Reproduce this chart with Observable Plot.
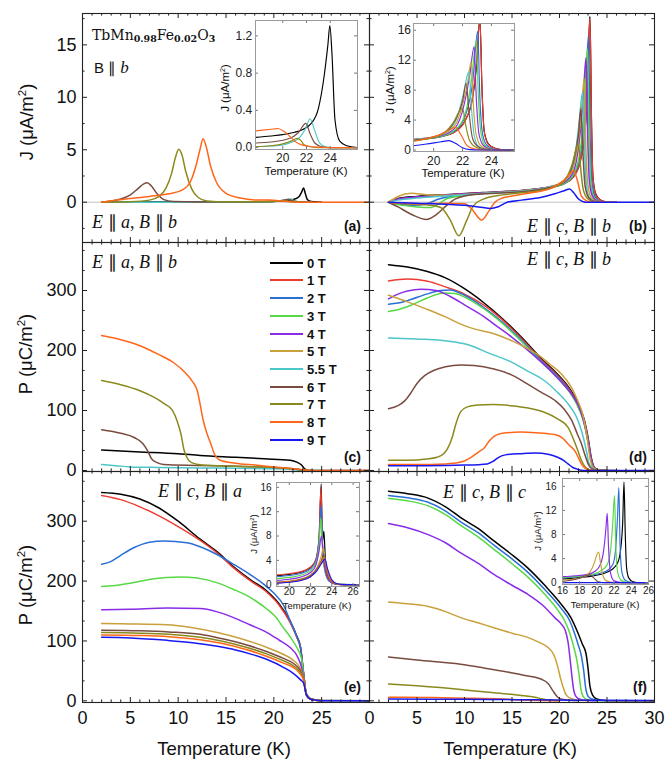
<!DOCTYPE html>
<html><head><meta charset="utf-8">
<script src="https://cdn.jsdelivr.net/npm/d3@7"></script>
<script src="https://cdn.jsdelivr.net/npm/@observablehq/plot@0.6"></script>
<style>
body{margin:0;background:#fff;}
#fig{position:relative;width:666px;height:759px;overflow:hidden;font-family:"Liberation Sans",Arial,sans-serif;color:#111;background:#fff;}
.t{position:absolute;white-space:nowrap;line-height:1;}
.em{font-family:"Liberation Serif","Times New Roman",serif;font-size:18px;}
.em i{font-style:italic;}
.lab{font-size:14px;font-weight:bold;}
.ax{font-size:18.5px;}
.ax sup,.ins sup,.ins2 sup{font-size:0.62em;vertical-align:0.55em;line-height:0;}
.ins{font-size:11.5px;}
.ins2{font-size:9.5px;}
.leg{font-size:13px;font-weight:bold;}
.form{font-family:"DejaVu Serif",serif;font-size:14px;}
.form sub{font-size:9.5px;font-weight:bold;vertical-align:-0.25em;line-height:0;}
.bb{font-size:15px;}
.bb i{font-family:"Liberation Serif",serif;font-size:17px;}
</style></head><body><div id="fig"></div>
<script>
// ---------------- data ----------------
const fields = ["0 T","1 T","2 T","3 T","4 T","5 T","5.5 T","6 T","7 T","8 T","9 T"];
const colors = ["#000000","#ee3b32","#2a6fd6","#57d845","#8a2be8","#c9a03a","#4cc7c9","#7a4c40","#8a8a1c","#ff661a","#1818f0"];

const tempMajor = [0,5,10,15,20,25,30];
const tempLabelsLeft = [0,5,10,15,20,25];
const tempLabelsRight = [0,5,10,15,20,25,30];
const jTicks = [0,5,10,15];
const pTicks = [0,100,200,300];
const insetATicksX = [20,22,24];
const insetATicksY = [0,0.4,0.8,1.2];
const insetBTicksX = [20,22,24];
const insetETicksX = [20,22,24,26];
const insetFTicksX = [16,18,20,22,24,26];
const insetJTicks = [0,4,8,12,16];

// (a) J, E||a, B||b
const jA = [
 ["0 T",[[2,0],[8,0.01],[14,0.02],[18,0.04],[20,0.08],[21,0.13],[22,0.25],[22.6,0.5],[22.9,0.95],[23.1,1.35],[23.3,0.8],[23.5,0.25],[23.9,0.06],[24.5,0.01],[25,0]]],
 ["5.5 T",[[2,0],[10,0],[18,0.02],[20,0.08],[21,0.17],[21.7,0.3],[22.2,0.12],[22.8,0.02],[24,0]]],
 ["6 T",[[2,0],[3,0.12],[4,0.3],[5,0.7],[5.8,1.3],[6.4,1.75],[6.75,1.85],[7.2,1.55],[7.8,0.8],[8.5,0.25],[9.5,0.07],[12,0.03],[18,0.04],[20.5,0.12],[21.5,0.25],[22.1,0.1],[23,0.02],[24,0]]],
 ["7 T",[[2,0],[5,0.05],[7,0.2],[8,0.55],[8.7,1.3],[9.3,2.7],[9.7,4.2],[10.05,5.05],[10.4,4.5],[10.8,2.9],[11.4,1.3],[12.1,0.45],[13,0.12],[15,0.04],[19,0.05],[20.5,0.1],[21.2,0.13],[21.8,0.05],[23,0]]],
 ["8 T",[[2,0],[3,0.15],[5,0.35],[7,0.55],[9,0.8],[10.5,1.2],[11.3,2],[11.9,3.6],[12.3,5.1],[12.6,6.05],[12.9,5.4],[13.4,3.4],[14,1.9],[15,0.85],[16.5,0.4],[18,0.22],[19.5,0.2],[21,0.1],[22,0.03],[23,0],[30,0]]]
];

// (b) J, E||c, B||b
const jB = [
 ["0 T",[[2,0],[3,0.35],[5,0.55],[8,0.72],[12,0.92],[16,1.12],[19,1.45],[20.5,1.8],[21.5,2.5],[22.2,4],[22.7,7],[23.0,12],[23.2,17.7],[23.35,8],[23.5,2.5],[23.8,0.8],[24.3,0.2],[25,0.02],[26,0]]],
 ["1 T",[[2,0],[3,0.3],[5,0.5],[8,0.7],[12,0.9],[16,1.1],[19,1.42],[20.5,1.78],[21.5,2.45],[22.2,4],[22.7,7.2],[23.0,12.5],[23.2,17.5],[23.35,8],[23.5,2.5],[23.8,0.7],[24.3,0.2],[25,0.02],[26,0]]],
 ["2 T",[[2,0],[3,-0.15],[4.5,-0.3],[6,-0.15],[7.3,0.3],[8.5,0.55],[12,0.85],[16,1.08],[19,1.42],[20.5,1.78],[21.5,2.6],[22.2,4.6],[22.7,9],[23.05,15.9],[23.2,7],[23.4,2],[23.7,0.6],[24.2,0.1],[25,0],[26,0]]],
 ["3 T",[[2,0],[3.5,-0.3],[5,-0.45],[6.5,-0.5],[7.3,-0.15],[8.2,0.35],[12,0.83],[16,1.06],[19,1.42],[20.5,1.8],[21.5,2.7],[22.2,5],[22.6,9],[22.95,14.6],[23.1,7],[23.3,2],[23.6,0.5],[24.1,0.1],[25,0],[26,0]]],
 ["4 T",[[2,0],[3,0.3],[5,0.5],[8,0.7],[12,0.9],[16,1.1],[19,1.48],[20.5,1.9],[21.5,3],[22.1,6],[22.5,10],[22.8,13.8],[22.95,7],[23.15,2],[23.5,0.5],[24,0.1],[25,0],[26,0]]],
 ["5 T",[[2,0],[3,0.55],[4.4,0.85],[6,0.72],[8,0.66],[12,0.85],[16,1.08],[19,1.48],[20.5,2],[21.5,3.4],[22,6],[22.35,9],[22.6,11.8],[22.75,6],[22.95,2],[23.3,0.5],[23.8,0.1],[25,0],[26,0]]],
 ["5.5 T",[[2,0],[3,0.2],[5,0.4],[8,0.6],[12,0.84],[16,1.04],[19,1.45],[20.5,2],[21.5,3.8],[22,7],[22.45,10.5],[22.6,6],[22.8,2],[23.1,0.5],[23.6,0.1],[25,0],[26,0]]],
 ["6 T",[[2,0],[3,-0.45],[4.5,-1.2],[6,-1.65],[7,-1.2],[8,-0.4],[9,0.3],[10,0.6],[12,0.8],[16,1.0],[19,1.4],[20.5,2.1],[21.5,4],[22,6.5],[22.25,8.9],[22.45,5],[22.7,1.5],[23.1,0.4],[23.6,0.1],[25,0],[26,0]]],
 ["7 T",[[2,0],[4,-0.15],[6,-0.25],[7.5,-0.5],[8.5,-1.7],[9.4,-3.2],[10.2,-1.8],[10.9,-0.4],[12,0.3],[14,0.7],[16,0.9],[19,1.3],[20.5,2],[21.3,3.5],[22,5.6],[22.2,3.5],[22.5,1.2],[23,0.3],[23.6,0.05],[25,0],[26,0]]],
 ["8 T",[[2,0],[5,-0.15],[8,-0.1],[10,-0.15],[10.8,-0.7],[11.8,-1.7],[12.6,-0.8],[13.2,0],[14,0.4],[15,0.6],[17,0.9],[19,1.3],[20.5,2.1],[21.5,3],[21.9,2],[22.3,0.6],[22.8,0.15],[23.5,0],[26,0]]],
 ["9 T",[[2,0],[5,-0.1],[8,-0.2],[10,-0.3],[11.5,-0.45],[12.8,-0.6],[13.5,-0.45],[14.5,0],[16,0.2],[18,0.45],[19.5,0.8],[20.5,1.1],[21.05,1.25],[21.5,0.9],[22,0.3],[22.5,0.05],[23,0],[30,0]]]
];

// (c) P, E||a, B||b
const pC = [
 ["0 T",[[2,34],[6,31],[10,28],[12.3,25],[16,22],[19,19.5],[21.7,17],[22.4,14],[22.9,9],[23.2,3],[23.5,0.5],[24,0],[30,0]]],
 ["5.5 T",[[2,10],[3.5,8],[5,6],[8,5],[14,4],[20,3],[22,1.5],[23,0],[25,0]]],
 ["6 T",[[2,68],[4,62],[5.4,55],[6.3,45],[6.8,33],[7.2,20],[7.8,13],[8.5,10],[12,8.5],[16,7],[20,5],[22,3],[23,0.5],[24,0]]],
 ["7 T",[[2,150],[4,143],[6,133],[7.5,122],[8.5,112],[9.4,100],[9.9,82],[10.3,60],[10.6,35],[10.9,22],[11.4,13],[12.5,9],[16,7],[20,5],[22.5,2],[23.5,0],[24,0]]],
 ["8 T",[[2,225],[4,218],[6,208],[8,193],[9.5,180],[10.8,162],[11.5,148],[12,133],[12.3,110],[12.6,85],[13,62],[13.4,45],[13.8,27],[14.4,17],[16,12],[18,9],[20,6],[22,3],[23.5,0.5],[25,0],[30,0]]]
];

// (d) P, E||c, B||b
const pD = [
 ["0 T",[[2,343],[4,339],[6,332],[8,321],[10,303],[12,280],[14,253],[16,222],[18,188],[20,157],[21,138],[22,110],[22.6,85],[23,55],[23.3,25],[23.6,7],[24,1.5],[25,0],[26,0]]],
 ["1 T",[[2,316],[4,319],[6,316],[8,306],[10,294],[12,276],[14,251],[16,220],[18,186],[20,155],[21,136],[22,108],[22.6,83],[23,53],[23.3,23],[23.6,6],[24,1],[25,0]]],
 ["2 T",[[2,277],[3,279],[4,283],[6,294],[7.5,300],[8.5,301],[10,292],[12,272],[14,247],[16,217],[18,184],[20,153],[21,134],[22,106],[22.6,80],[23,50],[23.3,20],[23.6,5],[24,1],[25,0]]],
 ["3 T",[[2,265],[3,268],[4.3,275],[6,287],[7.8,296],[9,295],[10,289],[12,270],[14,245],[16,215],[18,182],[20,151],[21,132],[22,104],[22.6,78],[23,47],[23.3,18],[23.6,4],[24,1],[25,0]]],
 ["4 T",[[2,286],[3,294],[4,299],[5.4,302],[7,300],[8.5,290],[10,276],[12,257],[13.1,244],[15,222],[17,196],[19,167],[20.5,142],[21.5,122],[22.2,100],[22.7,72],[23.1,40],[23.4,12],[23.7,3],[24.2,0],[25,0]]],
 ["5 T",[[2,292],[4,281],[6,269],[8,256],[9.6,244],[11,236],[13.1,228],[15,216],[16.65,203],[18,190],[19,177],[20.2,161],[21,145],[21.9,117],[22.5,90],[22.9,55],[23.2,22],[23.5,6],[24,1],[25,0]]],
 ["5.5 T",[[2,221],[5,219],[7.5,217],[9,214],[10.7,208],[12.5,196],[14.9,181],[16.5,167],[18.4,150],[19.8,130],[20.9,111],[21.7,92],[22.3,67],[22.8,35],[23.1,12],[23.5,3],[24,0],[25,0]]],
 ["6 T",[[2,103],[3,108],[3.7,116],[4.3,128],[5,145],[5.8,158],[6.8,167],[8,173],[9.6,176],[11,175],[13.1,169],[15,159],[16.65,144],[18,131],[19.5,117],[20.5,102],[21.3,83],[21.9,60],[22.3,45],[22.7,25],[23.1,8],[23.5,2],[24,0],[25,0]]],
 ["7 T",[[2,17],[4,17],[6,19],[7.1,22],[7.8,28],[8.2,36],[8.7,55],[9.1,78],[9.6,98],[10.3,106],[11.4,109],[13,110],[14.9,108],[16.7,104],[18.4,97],[19.8,86],[20.9,72],[21.6,47],[22,30],[22.3,17],[22.7,6],[23.2,1],[24,0],[25,0]]],
 ["8 T",[[2,10],[5,10],[8,11],[9.6,14],[10.7,22],[11.5,31],[12.1,38],[12.6,49],[13.1,57],[14,62],[15.9,64],[17.5,63],[19.5,60],[20.4,53],[20.9,44],[21.6,33],[22,21],[22.3,11],[22.7,4],[23.2,1],[24,0],[25,0]]],
 ["9 T",[[2,8],[6,8],[10,9],[12.4,11],[13,15],[13.5,21],[14.3,26],[16,28],[17.5,29],[18.8,27],[19.8,22],[20.5,16],[20.9,11],[21.4,5],[21.9,2],[22.5,0],[30,0]]]
];

// (e) P, E||c, B||a
const pE = [
 ["0 T",[[2,348],[4,345],[6,337],[8,322],[10,300],[12.3,270],[14,250],[15.8,224],[17.5,203],[19.3,183],[20.5,163],[21.7,133],[22.4,108],[22.8,89],[23.1,48],[23.4,12],[23.8,4],[24.4,1.5],[25,0.5],[30,0]]],
 ["1 T",[[2,343],[4,336],[6,324],[8,309],[10,291],[12.3,268],[14,248],[15.8,222],[17.5,201],[19.3,181],[20.5,161],[21.7,131],[22.4,106],[22.8,87],[23.1,46],[23.4,11],[23.8,3],[24.4,1],[25,0.3]]],
 ["2 T",[[2,228],[3,233],[4,243],[5.4,256],[7,265],[8.5,267],[10.9,264],[12.5,256],[14.1,244],[15.8,228],[17.6,210],[19,194],[20,180],[21,160],[21.7,134],[22.4,107],[22.8,87],[23.1,46],[23.4,11],[23.8,3],[24.4,1],[25,0.3]]],
 ["3 T",[[2,191],[4,194],[5.5,198],[7.1,203],[8.8,206],[10.2,207],[12,205],[14.1,197],[15.8,186],[17.6,172],[19.3,153],[20.2,140],[21,122],[21.7,107],[22.4,89],[22.9,70],[23.1,44],[23.4,11],[23.8,3],[24.4,1],[25,0.3]]],
 ["4 T",[[2,152],[5,153],[8.85,155],[12.3,154],[14,149],[15.8,139],[17.5,127],[19.3,114],[20.5,102],[21.7,89],[22.4,76],[22.8,61],[23.1,40],[23.4,11],[23.8,3],[24.4,1],[25,0.3]]],
 ["5 T",[[2,129],[5,128.5],[8.85,127],[11.5,122],[14.1,114],[16.5,104],[19.3,89],[20.8,79],[22.1,67],[22.7,56],[23.1,38],[23.4,10],[23.8,3],[24.4,1],[25,0.3]]],
 ["6 T",[[2,118],[6,117],[9,115],[12.3,111],[14.5,104],[17,94],[19.3,82],[21,71],[22.1,62],[22.7,52],[23.1,37],[23.4,10],[23.8,3],[24.4,1],[25,0.3]]],
 ["7 T",[[2,114],[6,113],[9,111],[12.3,106],[14.5,100],[17,90],[19.3,78],[21,67],[22.1,58],[22.7,49],[23.1,36],[23.4,10],[23.8,3],[24.4,1],[25,0.3]]],
 ["8 T",[[2,110],[6,109],[9,107],[12.3,102],[14.5,96],[17,86],[19.3,74],[21,63],[22.1,55],[22.7,46],[23.1,35],[23.4,10],[23.8,3],[24.4,1],[25,0.3]]],
 ["9 T",[[2,106],[5,105],[8.85,101],[11.5,97],[14.1,91],[16,85],[17.6,78],[19.3,69],[21,56],[22.1,45],[22.8,35],[23.1,30],[23.4,10],[23.8,3],[24.4,1],[25,0.3],[30,0]]]
];

// (f) P, E||c, B||c
const pF = [
 ["0 T",[[2,350],[4,346],[6.1,339],[8,324],[9.6,306],[11.5,287],[13.1,267],[15,244],[16.65,222],[18.5,192],[20.2,161],[21.2,139],[21.9,115],[22.4,95],[22.8,78],[23.0,55],[23.2,25],[23.5,9],[23.9,3],[24.5,1],[25.5,0],[30,0]]],
 ["2 T",[[2,343],[4,339],[6.1,332],[8,317],[9.6,299],[11.5,280],[13.1,260],[15,237],[16.65,215],[18.5,185],[20.2,154],[21.1,133],[21.6,112],[22.0,92],[22.3,75],[22.55,50],[22.75,22],[23.0,8],[23.4,3],[24,1],[25,0]]],
 ["3 T",[[2,338],[4,334],[6.1,326],[8,311],[9.6,293],[11.5,273],[13.1,253],[15,229],[16.65,207],[18.5,177],[19.8,152],[20.6,132],[21.1,112],[21.5,90],[21.8,70],[22.05,45],[22.25,20],[22.5,7],[22.9,2],[23.5,0.5],[24.5,0]]],
 ["4 T",[[2,296],[4,289],[6.1,278],[8,264],[9.6,247],[11.5,229],[13.1,211],[15,193],[16.65,178],[18.2,160],[19.5,139],[20.2,128],[20.6,118],[20.9,98],[21.1,72],[21.3,42],[21.5,18],[21.8,6],[22.3,2],[23,0.5],[24,0]]],
 ["5 T",[[2,165],[4,162],[6.1,158],[8,149],[9.6,139],[11.5,130],[13.1,122],[15,113],[16.65,106],[17.8,98],[18.8,89],[19.4,77],[19.8,58],[20.1,38],[20.4,22],[20.7,10],[21.2,4],[22,1],[23,0]]],
 ["6 T",[[2,73],[5,68],[9.6,61],[12,55],[14.9,47],[16.5,42],[18.1,36],[18.8,29],[19.3,17],[19.7,8],[20.1,3],[21,1],[22,0]]],
 ["7 T",[[2,28],[5,25],[9.6,19],[12,15],[14.9,11],[16.5,8],[17.4,6],[18.2,3],[19,1],[20,0]]],
 ["8 T",[[2,6],[6,5.5],[10,4.5],[14,3],[16,1.5],[18,0.5],[20,0]]],
 ["9 T",[[2,3],[10,2.5],[15,2],[22,1],[30,0.5]]]
];

// inset of (a): J near the transition
const jInsetA = [
 ["0 T",[[17.7,0.11],[19,0.125],[20,0.14],[21,0.165],[21.6,0.19],[22.4,0.26],[23,0.42],[23.5,0.78],[23.8,1.1],[23.97,1.31],[24.15,1.0],[24.4,0.3],[24.8,0.07],[25.4,0.02],[26.3,0]]],
 ["5.5 T",[[17.7,0.01],[19.5,0.02],[20.8,0.06],[21.5,0.12],[21.9,0.2],[22.3,0.31],[22.7,0.18],[23.1,0.05],[23.6,0.01],[24.5,0],[26.3,0]]],
 ["6 T",[[17.7,0.05],[19,0.06],[20.6,0.1],[21.3,0.16],[21.95,0.26],[22.3,0.15],[22.7,0.05],[23.3,0.01],[24,0],[26.3,0]]],
 ["7 T",[[17.7,0.01],[19,0.02],[20,0.04],[20.7,0.07],[21.2,0.1],[21.5,0.08],[21.8,0.03],[22.3,0.01],[23,0],[26.3,0]]],
 ["8 T",[[17.7,0.18],[18.5,0.19],[19.2,0.2],[19.6,0.205],[20.1,0.175],[20.6,0.12],[21.1,0.06],[21.6,0.03],[22.2,0.015],[23,0.005],[24,0],[26.3,0]]]
];

// inset of (e)
const jInsetE = [
 ["0 T",[[18.8,1.5],[20,1.7],[21,2.0],[22,2.8],[22.5,4.0],[22.8,7.5],[23.0,16.6],[23.12,7],[23.25,8.8],[23.4,4],[23.6,1.5],[24,0.4],[24.6,0.05],[26.6,0]]],
 ["1 T",[[18.8,1.6],[20,1.8],[21,2.1],[22,2.9],[22.5,4.2],[22.8,8],[22.98,16],[23.12,7],[23.3,3],[23.6,1],[24,0.3],[24.6,0.05],[26.6,0]]],
 ["2 T",[[18.8,1.3],[20,1.5],[21,1.8],[22,2.6],[22.5,4],[22.8,7.5],[23.0,13],[23.15,6],[23.4,2],[23.8,0.5],[24.4,0.1],[26.6,0]]],
 ["3 T",[[18.8,1.0],[20,1.2],[21,1.5],[22,2.3],[22.5,3.6],[22.8,6.5],[22.97,11],[23.15,5],[23.4,1.8],[23.8,0.5],[24.4,0.1],[26.6,0]]],
 ["4 T",[[18.8,0.7],[20,0.9],[21,1.2],[22,2.0],[22.5,3.2],[22.8,5.5],[23.02,8],[23.2,4.5],[23.5,1.5],[23.9,0.4],[24.5,0.05],[26.6,0]]],
 ["5 T",[[18.8,0.45],[20,0.6],[21,0.9],[22,1.6],[22.6,2.8],[23.0,4.6],[23.2,6],[23.4,3.5],[23.7,1.2],[24.2,0.25],[25,0],[26.6,0]]],
 ["6 T",[[18.8,0.35],[20,0.5],[21,0.8],[22,1.5],[22.6,2.6],[23.0,3.9],[23.25,5],[23.45,2.8],[23.8,0.9],[24.3,0.15],[25,0],[26.6,0]]],
 ["7 T",[[18.8,0.3],[20,0.45],[21,0.75],[22,1.4],[22.6,2.5],[23.0,3.7],[23.3,4.6],[23.5,2.8],[23.9,0.8],[24.4,0.15],[25,0],[26.6,0]]],
 ["8 T",[[18.8,0.3],[20,0.45],[21,0.7],[22,1.35],[22.6,2.4],[23.0,3.6],[23.3,4.4],[23.5,2.8],[23.9,0.8],[24.4,0.15],[25,0],[26.6,0]]],
 ["9 T",[[18.8,0.25],[20,0.4],[21,0.65],[22,1.3],[22.6,2.3],[23.0,3.4],[23.35,4.2],[23.6,2.6],[24,0.8],[24.5,0.15],[25.2,0],[26.6,0]]]
];

// inset of (f)
const jInsetF = [
 ["0 T",[[16,0.6],[18,0.85],[19.5,1.1],[20.5,1.4],[21.3,1.8],[22,2.5],[22.5,3.6],[22.8,6],[23.0,10],[23.15,16.7],[23.3,8],[23.45,2.5],[23.7,0.8],[24.2,0.15],[25,0],[26,0]]],
 ["2 T",[[16,0.8],[18,1.0],[19.5,1.3],[20.5,1.6],[21.3,2.1],[21.9,3.2],[22.2,6],[22.4,11],[22.55,15.8],[22.7,6],[22.9,1.8],[23.3,0.4],[24,0.05],[26,0]]],
 ["3 T",[[16,0.9],[18,1.1],[19.5,1.4],[20.5,2.0],[21.2,3.0],[21.6,5.5],[21.85,10],[22.05,14.5],[22.2,6],[22.45,1.5],[22.9,0.3],[23.8,0],[26,0]]],
 ["4 T",[[16,1.0],[17.5,1.15],[18.8,1.35],[19.8,1.9],[20.4,3.0],[20.8,5.5],[21.05,9],[21.2,11.5],[21.35,6],[21.6,1.5],[22,0.3],[23,0],[26,0]]],
 ["5 T",[[16,0.45],[17.5,0.65],[18.5,1.0],[19.2,1.8],[19.7,3.3],[20.0,4.7],[20.2,5.1],[20.4,3.5],[20.7,1.2],[21.1,0.3],[22,0],[26,0]]],
 ["6 T",[[16,0.2],[17,0.4],[18,0.75],[18.7,1.15],[19.2,1.3],[19.6,0.85],[20.1,0.2],[21,0],[26,0]]],
 ["9 T",[[16,0],[26,0]]]
];

// ---------------- drawing ----------------
const FONT = '"Liberation Sans", Arial, sans-serif';
const fig = document.getElementById("fig");
const rows = series => series.flatMap(([field, pts]) => pts.map(([T, v]) => ({field, T, v})));
function place(node, x, y) {
  node.style.position = "absolute";
  node.style.left = x + "px";
  node.style.top = y + "px";
  fig.appendChild(node);
}
function addTicks(marks, w, h, xMaj, xMin, yMaj, yMin, col, majL, minL) {
  const s = {stroke: col, strokeWidth: 1};
  marks.push(
    Plot.ruleX(xMaj, {insetTop: h - majL, ...s}),
    Plot.ruleX(xMaj, {insetBottom: h - majL, ...s}),
    Plot.ruleY(yMaj, {insetRight: w - majL, ...s}),
    Plot.ruleY(yMaj, {insetLeft: w - majL, ...s})
  );
  if (xMin.length) marks.push(
    Plot.ruleX(xMin, {insetTop: h - minL, ...s}),
    Plot.ruleX(xMin, {insetBottom: h - minL, ...s})
  );
  if (yMin.length) marks.push(
    Plot.ruleY(yMin, {insetRight: w - minL, ...s}),
    Plot.ruleY(yMin, {insetLeft: w - minL, ...s})
  );
}
const tempMinor = d3.range(1, 30).filter(t => t % 5 !== 0);

function mainPanel(series, o) {
  const marks = [];
  if (o.zero) marks.push(Plot.ruleY([0], {stroke: "#d6d6d6", strokeWidth: 1.6}));
  marks.push(Plot.line(rows(series), {x: "T", y: "v", z: "field", stroke: "field", strokeWidth: 1.5, curve: "monotone-x", clip: true}));
  addTicks(marks, o.w, o.h, tempMajor, tempMinor, o.yMaj, o.yMin, "#222", 5, 2.6);
  marks.push(Plot.frame({stroke: "#222", strokeWidth: 1.1}));
  if (o.yLab) marks.push(Plot.axisY({ticks: o.yLab, tickSize: 0, tickPadding: 6, label: null, tickFormat: d3.format("d"), fontSize: 18}));
  if (o.xLab) marks.push(Plot.axisX({ticks: o.xLab, tickSize: 0, tickPadding: 9, label: null, tickFormat: d3.format("d"), fontSize: 18}));
  const svg = Plot.plot({
    width: o.w, height: o.h, marginTop: 0, marginRight: 0, marginBottom: 0, marginLeft: 0,
    x: {domain: [0, 30], axis: null}, y: {domain: o.yDomain, axis: null},
    color: {domain: fields, range: colors},
    style: {background: "transparent", overflow: "visible", fontFamily: FONT, fontSize: "18px", color: "#111"},
    marks
  });
  place(svg, o.x0, o.y0);
}

function insetPanel(series, o) {
  const marks = [];
  marks.push(Plot.line(rows(series), {x: "T", y: "v", z: "field", stroke: "field", strokeWidth: 1.15, curve: "monotone-x", clip: true}));
  addTicks(marks, o.w, o.h, o.xTicks, [], o.yTicks, [], "#777", 3, 0);
  marks.push(Plot.frame({stroke: "#9a9a9a", strokeWidth: 1}));
  marks.push(Plot.axisY({ticks: o.yTicks, tickSize: 0, tickPadding: o.padY, label: null, tickFormat: o.yFormat || d3.format("d"), fontSize: o.fs}));
  marks.push(Plot.axisX({ticks: o.xTicks, tickSize: 0, tickPadding: o.padX, label: null, tickFormat: d3.format("d"), fontSize: o.fs}));
  const svg = Plot.plot({
    width: o.w, height: o.h, marginTop: 0, marginRight: 0, marginBottom: 0, marginLeft: 0,
    x: {domain: o.xDomain, axis: null}, y: {domain: o.yDomain, axis: null},
    color: {domain: fields, range: colors},
    style: {background: "white", overflow: "visible", fontFamily: FONT, fontSize: o.fs + "px", color: "#222"},
    marks
  });
  place(svg, o.x0, o.y0);
}

const jMin = [-2.5, 2.5, 7.5, 12.5, 17.5];
const pMin = [33.3, 66.7, 133.3, 166.7, 233.3, 266.7, 333.3, 366.7];

mainPanel(jA, {x0: 82, y0: 13, w: 287, h: 229, yDomain: [-3.84, 17.99], yMaj: jTicks, yMin: jMin, yLab: jTicks, zero: true});
mainPanel(jB, {x0: 369, y0: 13, w: 285, h: 229, yDomain: [-3.84, 17.99], yMaj: jTicks, yMin: jMin, zero: true});
mainPanel(pC, {x0: 82, y0: 242, w: 287, h: 229, yDomain: [-1.7, 380], yMaj: pTicks, yMin: pMin, yLab: pTicks});
mainPanel(pD, {x0: 369, y0: 242, w: 285, h: 229, yDomain: [-1.7, 380], yMaj: pTicks, yMin: pMin});
mainPanel(pE, {x0: 82, y0: 471, w: 287, h: 231, yDomain: [-2.8, 383], yMaj: pTicks, yMin: pMin, yLab: pTicks, xLab: tempLabelsLeft});
mainPanel(pF, {x0: 369, y0: 471, w: 285, h: 231, yDomain: [-2.8, 383], yMaj: pTicks, yMin: pMin, xLab: tempLabelsRight});

insetPanel(jInsetA, {x0: 255, y0: 20, w: 102, h: 129, xDomain: [17.7, 26.3], yDomain: [-0.02, 1.365], xTicks: insetATicksX, yTicks: insetATicksY, yFormat: d3.format(".1f"), fs: 12, padX: 3.5, padY: 3.3});
insetPanel(jB, {x0: 413, y0: 23, w: 101, h: 128, xDomain: [18.6, 25.6], yDomain: [-0.2, 16.9], xTicks: insetBTicksX, yTicks: insetJTicks, fs: 12, padX: 4.5, padY: 2.5});
insetPanel(jInsetE, {x0: 276, y0: 482, w: 83, h: 104, xDomain: [18.8, 26.6], yDomain: [-0.3, 16.8], xTicks: insetETicksX, yTicks: insetJTicks, fs: 10, padX: 1.5, padY: 5});
insetPanel(jInsetF, {x0: 562, y0: 478, w: 86, h: 106, xDomain: [16, 26], yDomain: [-0.3, 17.3], xTicks: insetFTicksX, yTicks: insetJTicks, fs: 10, padX: 2, padY: 6});

// ---------------- text ----------------
function txt(html, x, y, cls, anchor, rot) {
  const d = document.createElement("div");
  d.className = "t " + (cls || "");
  d.innerHTML = html;
  const tx = anchor === "right" ? "-100%" : anchor === "center" ? "-50%" : "0";
  d.style.left = x + "px";
  d.style.top = y + "px";
  d.style.transform = `translate(${tx},-50%)` + (rot ? " rotate(-90deg)" : "");
  fig.appendChild(d);
}
const J_UNIT = "J (μA/m<sup>2</sup>)";
const P_UNIT = "P (μC/m<sup>2</sup>)";
txt(J_UNIT, 27, 122, "ax", "center", true);
txt(P_UNIT, 26, 354, "ax", "center", true);
txt(P_UNIT, 26, 585, "ax", "center", true);
txt("Temperature (K)", 224, 749, "ax", "center");
txt("Temperature (K)", 510, 749, "ax", "center");

txt("TbMn<sub>0.98</sub>Fe<sub>0.02</sub>O<sub>3</sub>", 92, 35, "form", "left");
txt("B ∥ <i>b</i>", 94, 67, "bb", "left");

const ann = (a, b) => `<i>E</i> ∥ <i>${a}</i>, <i>B</i> ∥ <i>${b}</i>`;
txt(ann("a", "b"), 92, 222, "em", "left");
txt(ann("c", "b"), 527, 226, "em", "left");
txt(ann("a", "b"), 92, 262, "em", "left");
txt(ann("c", "b"), 527, 259, "em", "left");
txt(ann("c", "a"), 158, 491, "em", "left");
txt(ann("c", "c"), 443, 492, "em", "left");

txt("(a)", 361, 226, "lab", "right");
txt("(b)", 647, 226, "lab", "right");
txt("(c)", 361, 457, "lab", "right");
txt("(d)", 647, 457, "lab", "right");
txt("(e)", 361, 687, "lab", "right");
txt("(f)", 647, 687, "lab", "right");

// inset titles
txt(J_UNIT, 226, 88, "ins", "center", true);
txt("Temperature (K)", 306, 172, "ins", "center");
txt(J_UNIT, 391, 90, "ins", "center", true);
txt("Temperature (K)", 463, 174, "ins", "center");
txt(J_UNIT, 254, 534, "ins2", "center", true);
txt("Temperature (K)", 317, 606, "ins2", "center");
txt(J_UNIT, 538, 531, "ins2", "center", true);
txt("Temperature (K)", 605, 605, "ins2", "center");

// legend (panel c)
fields.forEach((f, i) => {
  const y = 262.7 + i * 17.7;
  const sw = document.createElement("div");
  sw.style.cssText = `position:absolute;left:270px;top:${y - 1}px;width:33px;height:2px;background:${colors[i]}`;
  fig.appendChild(sw);
  txt(f, 307, y, "leg", "left");
});
</script></body></html>
